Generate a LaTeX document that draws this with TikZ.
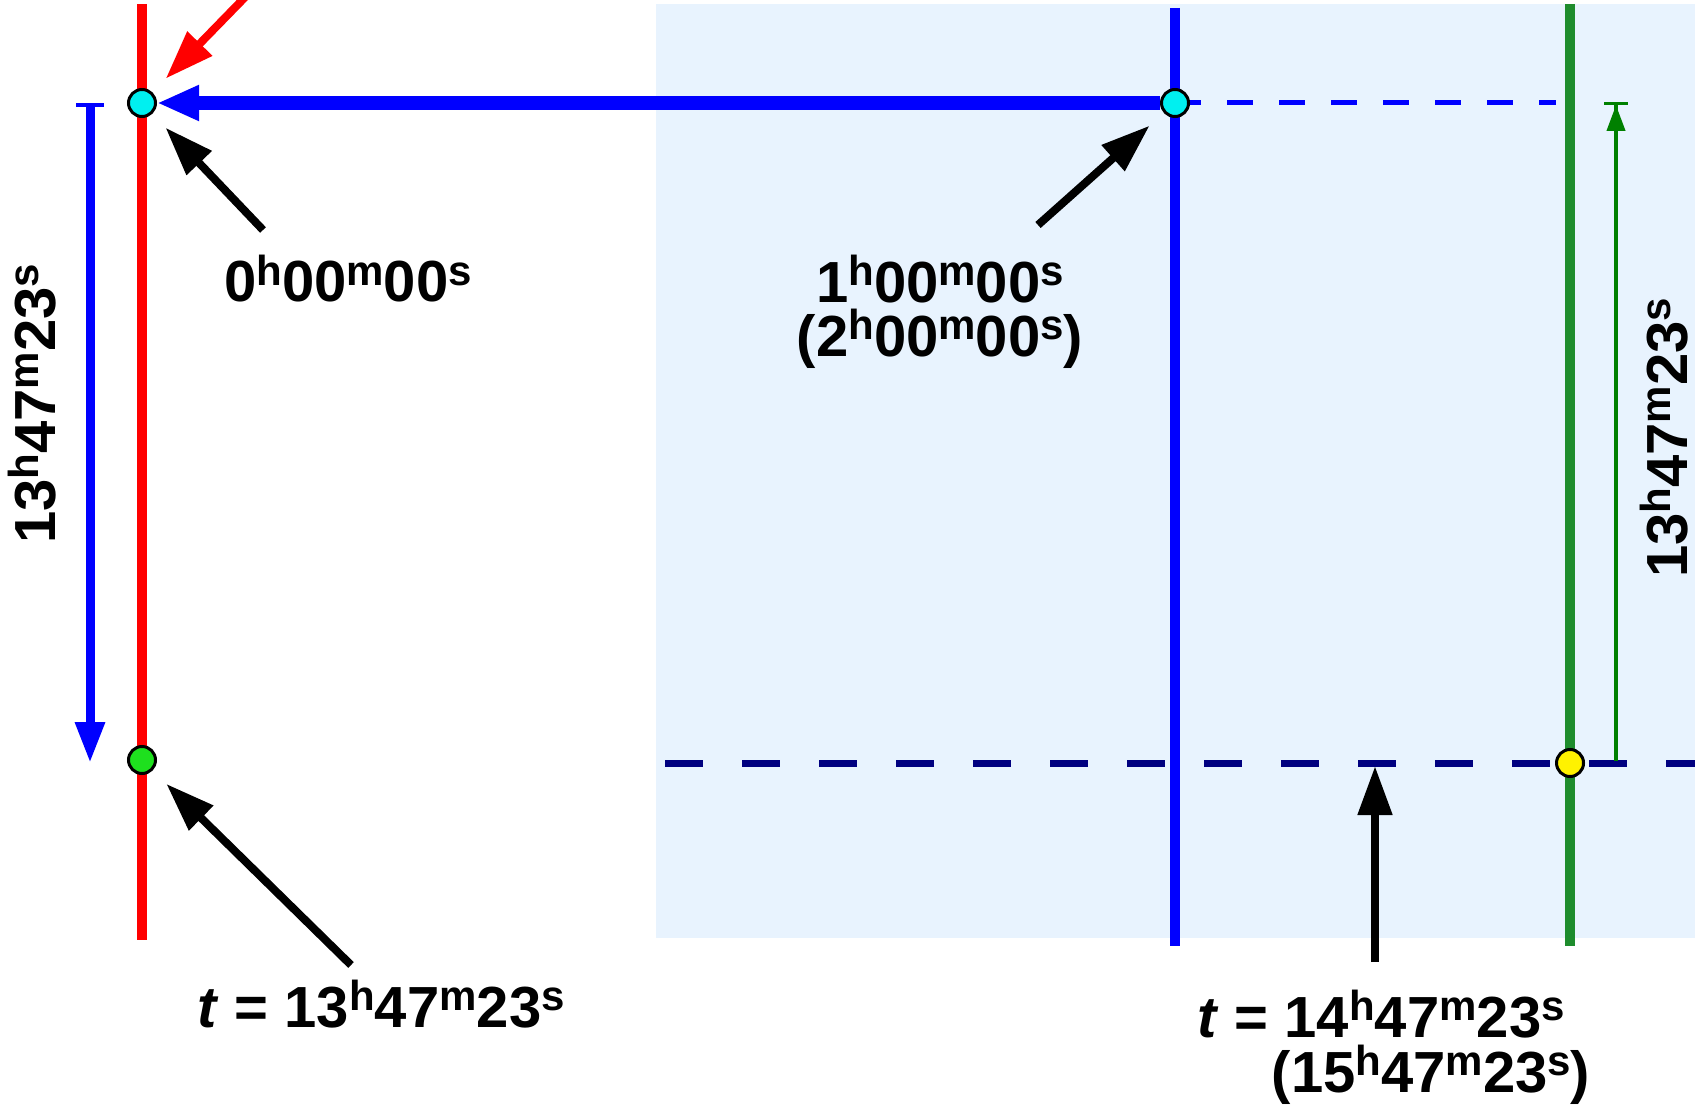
\documentclass[tikz,border=0pt]{standalone}
\usepackage{fontspec}
\setmainfont{Liberation Sans}
\usepackage{tikz}
\usetikzlibrary{arrows.meta, positioning}
\definecolor{skyback}{HTML}{E8F3FE}
\definecolor{linegreen}{HTML}{1E8C2D}
\definecolor{arrowgreen}{HTML}{008000}
\definecolor{dotcyan}{HTML}{00F0F0}
\definecolor{dotgreen}{HTML}{1EE01E}
\definecolor{navyline}{HTML}{000080}
\newcommand{\tsup}[1]{\raisebox{8.5pt}{\fontsize{21}{21}\selectfont #1}}
\newcommand{\hms}[3]{#1\tsup{h}#2\tsup{m}#3\tsup{s}}

\begin{document}
\begin{tikzpicture}[x=0.5pt,y=-0.5pt,font=\fontsize{29}{27}\selectfont\bfseries]
    \tikzstyle{dot}=[shape=circle,draw=black,line width=1.5pt,minimum size=13.5pt,inner sep=0pt]
    \tikzstyle{lbl}=[anchor=base,inner sep=0pt]
    \tikzstyle{pointer}=[line width=4pt,-{Triangle[length=24.5pt,width=16.5pt]}]
    \tikzstyle{track}=[line width=5pt]

    \useasboundingbox (0,0) rectangle (1695,1112);
    \fill[skyback] (656,4) rectangle (1695,938);

    \coordinate (redtop) at (142,4);
    \coordinate (redbot) at (142,940);
    \coordinate (bluetop) at (1175,8);
    \coordinate (bluebot) at (1175,946);
    \coordinate (greentop) at (1570,4);
    \coordinate (greenbot) at (1570,946);
    \coordinate (c0) at (142,103);
    \coordinate (c1) at (1175,103);
    \coordinate (g0) at (142,760);
    \coordinate (y0) at (1570,763);

    % world lines
    \draw[red,track] (redtop) -- (redbot);
    \draw[blue,track] (bluetop) -- (bluebot);
    \draw[linegreen,track] (greentop) -- (greenbot);

    \coordinate (nowleft) at (665,763);
    \coordinate (nowright) at (1700,763);
    \coordinate (leaveright) at (1556,103);
    \draw[navyline,line width=3.5pt,dash pattern=on 19pt off 19.5pt] (nowleft) -- (nowright);
    \draw[blue,line width=2.5pt,dash pattern=on 13pt off 13pt] (c1) -- (leaveright);

    % elapsed time
    \coordinate (spantop) at (90,103);
    \coordinate (spanbot) at (90,763);
    \draw[blue,line width=4.5pt,{Bar[width=14pt,line width=2pt]}-{Triangle[length=20.5pt,width=14pt]}] (spantop) -- (spanbot);
    \coordinate (risetop) at (1616,102);
    \coordinate (risebot) at (1616,761);
    \draw[arrowgreen,line width=2pt,-{Triangle[length=13pt,width=9pt] Bar[width=12pt,line width=1.5pt]}] (risebot) -- (risetop);

    \node[dot,fill=dotcyan] (start) at (c0) {};
    \node[dot,fill=dotcyan] (leave) at (c1) {};
    \node[dot,fill=dotgreen] (here) at (g0) {};
    \node[dot,fill=yellow] (there) at (y0) {};

    \draw[blue,line width=7pt,-{Triangle[length=21pt,width=16.5pt]}] (leave) -- (start);

    \node[lbl] (zero) at (348,302) {\hms{0}{00}{00}};
    \node[lbl,align=center] (one) at (940,357) {\hms{1}{00}{00}\\(\hms{2}{00}{00})};
    \node[lbl] (tnow) at (381,1027) {\textit{t} = \hms{13}{47}{23}};
    \node[lbl] (tlater) at (1381,1037) {\textit{t} = \hms{14}{47}{23}};
    \node[lbl] (tlocal) at (1431,1092) {(\hms{15}{47}{23})};
    \node[lbl,rotate=90] (spanl) at (55,404) {\hms{13}{47}{23}};
    \node[lbl,rotate=90] (spanr) at (1687,438) {\hms{13}{47}{23}};

    \coordinate (redfrom) at (254,-12);
    \coordinate (p0) at (263,230);
    \coordinate (p1) at (1038,225);
    \coordinate (p2) at (351,965);
    \coordinate (p3) at (1375,962);
    \coordinate (p3tip) at (1375,766);
    \draw[red,pointer,shorten >=9.5pt] (redfrom) -- (start);
    \draw[pointer,shorten >=9.5pt] (p0) -- (start);
    \draw[pointer,shorten >=9.5pt] (p1) -- (leave);
    \draw[pointer,shorten >=9.5pt] (p2) -- (here);
    \draw[pointer] (p3) -- (p3tip);
\end{tikzpicture}
\end{document}
